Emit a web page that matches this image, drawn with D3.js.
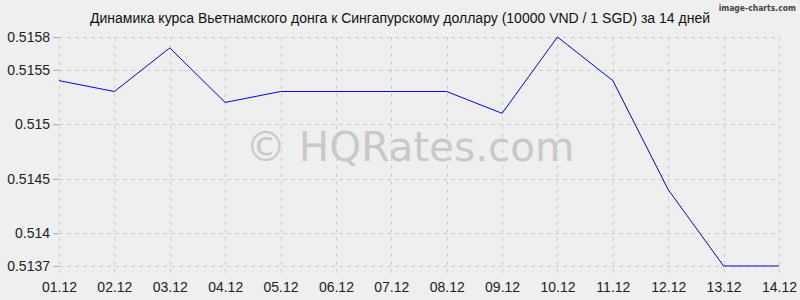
<!DOCTYPE html>
<html>
<head>
<meta charset="utf-8">
<script src="https://cdn.jsdelivr.net/npm/d3@7"></script>
<style>
  body { margin: 0; background: #efefef; }
  svg { display: block; font-family: "Liberation Sans", Arial, sans-serif; }
</style>
</head>
<body>
<div id="chart"></div>
<script>
// ===== DATA =====
const dates = ["01.12","02.12","03.12","04.12","05.12","06.12","07.12",
               "08.12","09.12","10.12","11.12","12.12","13.12","14.12"];
const rates = [0.5154, 0.5153, 0.5157, 0.5152, 0.5153, 0.5153, 0.5153,
               0.5153, 0.5151, 0.5158, 0.5154, 0.5144, 0.5137, 0.5137];
const yTicks = [0.5137, 0.514, 0.5145, 0.515, 0.5155, 0.5158];
const title = "Динамика курса Вьетнамского донга к Сингапурскому доллару (10000 VND / 1 SGD) за 14 дней";

const width = 800, height = 300;
const margin = { top: 37, right: 21, bottom: 34, left: 59 };

const svg = d3.select("#chart").append("svg")
  .attr("width", width)
  .attr("height", height);

svg.append("rect")
  .attr("width", width)
  .attr("height", height)
  .attr("fill", "#efefef");

const x = d3.scalePoint()
  .domain(dates)
  .range([margin.left, width - margin.right]);

const y = d3.scaleLinear()
  .domain([0.5137, 0.5158])
  .range([height - margin.bottom, margin.top]);

// watermark
svg.append("text")
  .attr("x", 410)
  .attr("y", 161)
  .attr("text-anchor", "middle")
  .attr("font-family", "'DejaVu Sans', sans-serif")
  .attr("font-size", 40.5)
  .attr("fill", "#c9c9c9")
  .text("© HQRates.com");

// grid: horizontal
svg.append("g")
  .selectAll("line")
  .data(yTicks)
  .enter().append("line")
  .attr("x1", margin.left)
  .attr("x2", width - margin.right)
  .attr("y1", d => Math.round(y(d)) + 0.5)
  .attr("y2", d => Math.round(y(d)) + 0.5)
  .attr("stroke", "#cfcfcf")
  .attr("stroke-dasharray", "4,4");

// grid: vertical
svg.append("g")
  .selectAll("line")
  .data(dates)
  .enter().append("line")
  .attr("x1", d => Math.round(x(d)) + 0.5)
  .attr("x2", d => Math.round(x(d)) + 0.5)
  .attr("y1", margin.top)
  .attr("y2", height - margin.bottom + 9)
  .attr("stroke", "#cfcfcf")
  .attr("stroke-dasharray", "4,4");

// y axis
const yAxis = svg.append("g")
  .attr("transform", `translate(${margin.left},0)`)
  .call(d3.axisLeft(y).tickValues(yTicks).tickFormat(d => String(+d.toFixed(4))).tickSize(6).tickPadding(3));
yAxis.select(".domain").remove();
yAxis.selectAll(".tick line").attr("stroke", "#aaaaaa");
yAxis.selectAll("text")
  .attr("font-size", 14)
  .attr("fill", "#222")
  .attr("font-family", "'Liberation Sans', Arial, sans-serif");

// x axis
const xAxis = svg.append("g")
  .attr("transform", `translate(0,${height - margin.bottom})`)
  .call(d3.axisBottom(x).tickSize(0).tickPadding(16));
xAxis.select(".domain").remove();
xAxis.selectAll("text")
  .attr("font-size", 14)
  .attr("fill", "#222")
  .attr("font-family", "'Liberation Sans', Arial, sans-serif");

// line
const line = d3.line()
  .x((d, i) => x(dates[i]))
  .y(d => y(d));

svg.append("path")
  .datum(rates)
  .attr("d", line)
  .attr("fill", "none")
  .attr("stroke", "#0000ff")
  .attr("stroke-width", 1);

// title
svg.append("text")
  .attr("x", 400)
  .attr("y", 23)
  .attr("text-anchor", "middle")
  .attr("font-size", 14)
  .attr("fill", "#111")
  .text(title);

// credit
svg.append("text")
  .attr("x", 796)
  .attr("y", 11)
  .attr("text-anchor", "end")
  .attr("font-family", "'DejaVu Sans Condensed', 'DejaVu Sans', sans-serif")
  .attr("font-weight", "bold")
  .attr("font-size", 8.5)
  .attr("fill", "#444")
  .text("image-charts.com");
</script>
</body>
</html>
